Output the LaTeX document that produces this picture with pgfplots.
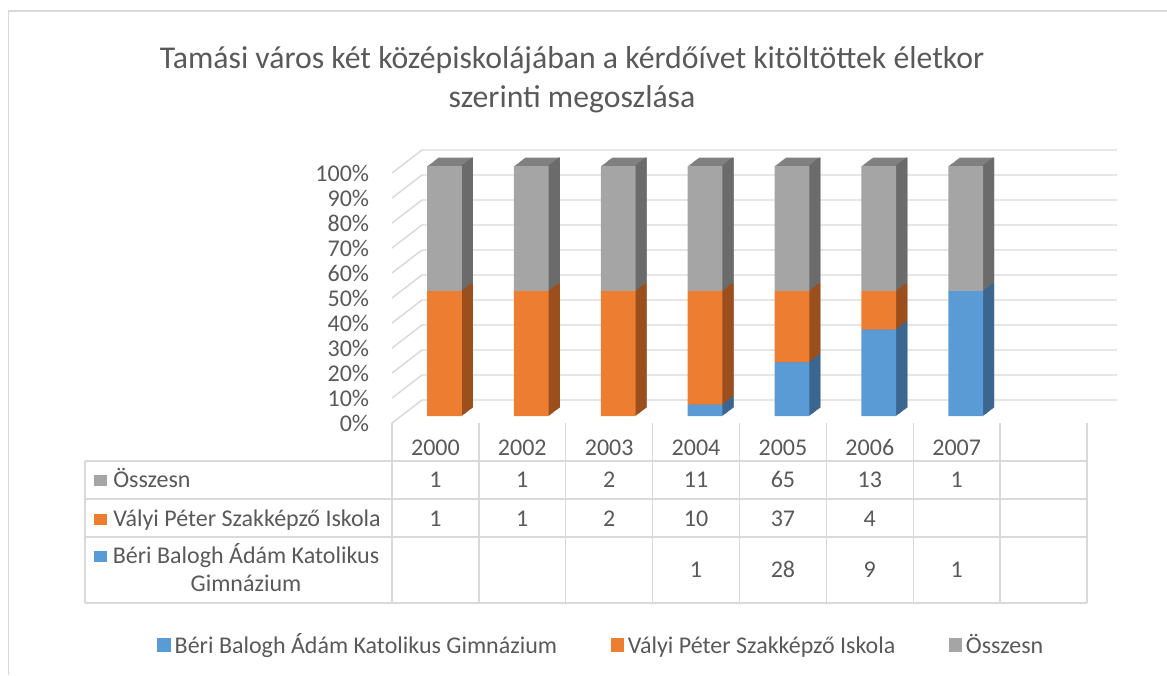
\documentclass[border=0pt]{standalone}
\usepackage{fontspec}
\setmainfont{Carlito}
\usepackage{pgfplots}
\usepackage{pgfplotstable}
\pgfplotsset{compat=1.18}

\definecolor{txt}{HTML}{595959}
\definecolor{gridc}{HTML}{D9D9D9}
\definecolor{cB}{HTML}{5B9BD5}
\definecolor{cBs}{HTML}{3B6690}
\definecolor{cV}{HTML}{ED7D31}
\definecolor{cVs}{HTML}{9A4F1D}
\definecolor{cO}{HTML}{A5A5A5}
\definecolor{cOs}{HTML}{6B6B6B}
\definecolor{cOt}{HTML}{808080}

% percentage shares (100% stacked), categories at 0.5, 1.5, ...
\pgfplotstableread{
x    B       V       O
0.5  0       50      50
1.5  0       50      50
2.5  0       50      50
3.5  4.545   45.455  50
4.5  21.538  28.462  50
5.5  34.615  15.385  50
6.5  50      0       50
}\pct

\newcommand{\fs}{\fontsize{18}{21.6}\selectfont}

\pgfplotsset{
  plane/.style={scale only axis, anchor=south west, width=521.25pt, height=187.5pt,
    xmin=0, xmax=8, ymin=0, ymax=100, clip=false},
  bars/.style={plane, hide axis, ybar stacked, bar shift=0pt, bar width=0.4},
}

\begin{document}
\begin{tikzpicture}
\useasboundingbox (0,0) rectangle (875.25pt,-506.25pt);

% front plane: tick labels, walls and gridlines
\begin{axis}[plane, at={(294pt,-317.25pt)},
  axis line style={draw=none}, major tick length=0pt, xtick=\empty,
  ytick={0,10,...,100},
  yticklabels={0\%,10\%,20\%,30\%,40\%,50\%,60\%,70\%,80\%,90\%,100\%},
  yticklabel style={font=\fs, text=txt, inner sep=0pt, anchor=east, xshift=-17pt}]
  \pgfplotsinvokeforeach{0,10,...,100}{
    \draw[gridc, line width=1.1pt] (axis cs:0,#1) -- (axis cs:0.3453,#1+9.2) -- (axis cs:8.3453,#1+9.2);
  }
\end{axis}

% bar depth, pass 1: top faces
\foreach \k in {12,11,...,1}{
  \begin{axis}[bars, at={({(401+11.1*\k/12)*0.75pt},{-(416.1-8.5*\k/12)*0.75pt})}]
    \addplot[fill=cOt, draw=none] table[x=x,y=B]{\pct};
    \addplot[fill=cOt, draw=none] table[x=x,y=V]{\pct};
    \addplot[fill=cOt, draw=none] table[x=x,y=O]{\pct};
  \end{axis}
}
% bar depth, pass 2: side faces
\foreach \k in {12,11,...,1}{
  \begin{axis}[bars, bar width=0.0175, bar shift=0.19125,
    at={({(401+11.1*\k/12)*0.75pt},{-(416.1-8.5*\k/12)*0.75pt})}]
    \addplot[fill=cBs, draw=none] table[x=x,y=B]{\pct};
    \addplot[fill=cVs, draw=none] table[x=x,y=V]{\pct};
    \addplot[fill=cOs, draw=none] table[x=x,y=O]{\pct};
  \end{axis}
}
% front faces and legend
\begin{axis}[bars, at={(300.75pt,-312.075pt)},
  legend columns=3,
  legend style={at={(0.2868,-0.916)}, anchor=center, draw=none, fill=none,
    font=\fs, text=txt, nodes={inner sep=0pt, text height=12pt, text depth=0pt},
    /tikz/every odd column/.append style={column sep=3pt},
    /tikz/every even column/.append style={column sep=40pt}},
  legend image code/.code={\draw[#1,draw=none] (0pt,-5pt) rectangle (10pt,5pt);}]
  \addplot[fill=cB, draw=none] table[x=x,y=B]{\pct};
  \addlegendentry{Béri Balogh Ádám Katolikus Gimnázium}
  \addplot[fill=cV, draw=none] table[x=x,y=V]{\pct};
  \addlegendentry{Vályi Péter Szakképző Iskola}
  \addplot[fill=cO, draw=none] table[x=x,y=O]{\pct};
  \addlegendentry{Összesn}
\end{axis}

\begin{scope}[x=0.75pt,y=-0.75pt]
  % chart border
  \draw[gridc, line width=1.1pt] (8.5,675) -- (8.5,11) -- (1167,11);
  % title
  \node[anchor=base, font=\fontsize{23.8}{28}\selectfont, text=txt, inner sep=0pt] at (572,68)
    {Tamási város két középiskolájában a kérdőívet kitöltöttek életkor};
  \node[anchor=base, font=\fontsize{23.8}{28}\selectfont, text=txt, inner sep=0pt] at (572,107)
    {szerinti megoszlása};
  % data table
  \foreach \i in {0,...,8}
    \draw[gridc, line width=1.1pt] ({392+86.875*\i},423) -- ({392+86.875*\i},603);
  \draw[gridc, line width=1.1pt] (85,461) -- (1087,461) (85,499) -- (1087,499)
    (85,537) -- (1087,537) (85,603) -- (1087,603) (85,461) -- (85,603);
  \foreach \y [count=\i from 0] in {2000,2002,2003,2004,2005,2006,2007}
    \node[anchor=base, font=\fs, text=txt, inner sep=0pt] at ({435.44+86.875*\i},455) {\y};
  \foreach \v [count=\i from 0] in {1,1,2,11,65,13,1}
    \node[anchor=base, font=\fs, text=txt, inner sep=0pt] at ({435.44+86.875*\i},487) {\v};
  \foreach \v [count=\i from 0] in {1,1,2,10,37,4}
    \node[anchor=base, font=\fs, text=txt, inner sep=0pt] at ({435.44+86.875*\i},526) {\v};
  \foreach \v [count=\i from 3] in {1,28,9,1}
    \node[anchor=base, font=\fs, text=txt, inner sep=0pt] at ({435.44+86.875*\i},577) {\v};
  % row labels
  \fill[cO] (94,475) rectangle (107,486);
  \node[anchor=base west, font=\fs, text=txt, inner sep=0pt] at (113,487) {Összesn};
  \fill[cV] (94,514) rectangle (107,525);
  \node[anchor=base west, font=\fs, text=txt, inner sep=0pt] at (113,526) {Vályi Péter Szakképző Iskola};
  \fill[cB] (94,551) rectangle (107,562);
  \node[anchor=base, font=\fs, text=txt, inner sep=0pt] at (246,563) {Béri Balogh Ádám Katolikus};
  \node[anchor=base, font=\fs, text=txt, inner sep=0pt] at (246,591) {Gimnázium};
\end{scope}
\end{tikzpicture}
\end{document}
